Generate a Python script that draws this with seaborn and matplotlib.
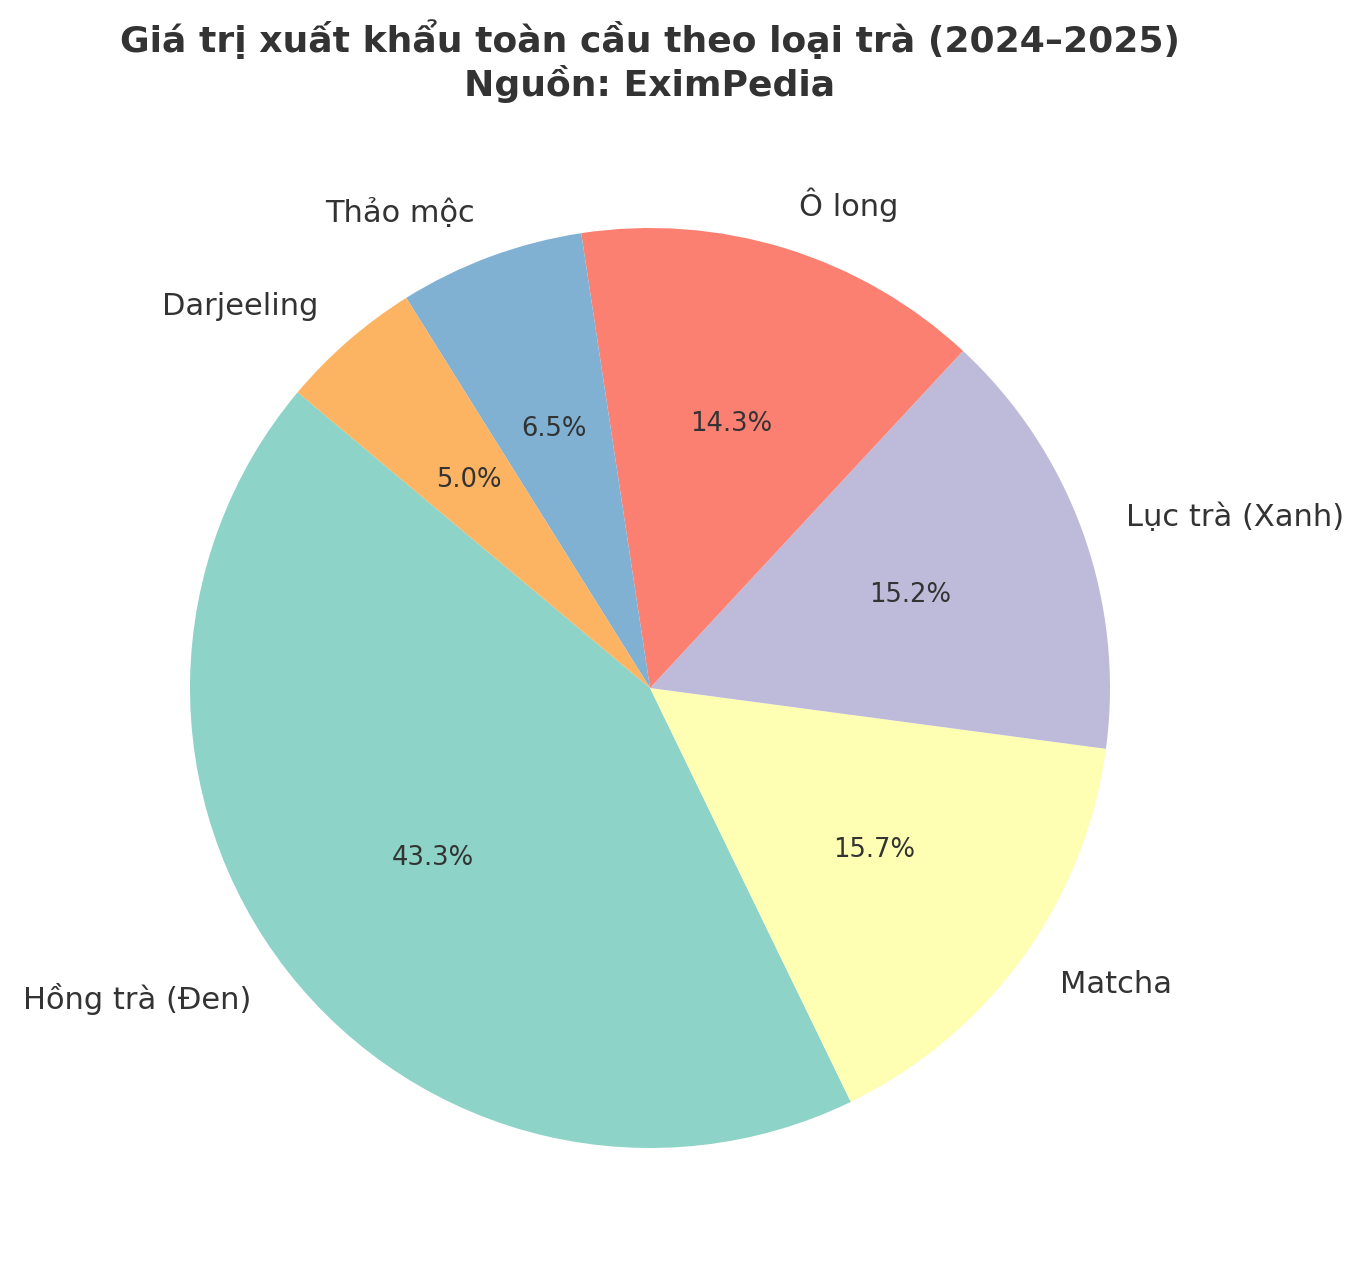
import matplotlib
matplotlib.use("Agg")
import matplotlib.pyplot as plt
import seaborn as sns

# Export share by tea type (percent)
tea_types = ["Hồng trà (Đen)", "Matcha", "Lục trà (Xanh)", "Ô long", "Thảo mộc", "Darjeeling"]
shares = [43.3, 15.7, 15.2, 14.3, 6.5, 5.0]

sns.set_style("white")
plt.rcParams['font.family'] = ['DejaVu Sans']
text_color = "#333333"

colors = sns.color_palette("Set3", len(tea_types))

fig = plt.figure(figsize=(6.83, 6.405), dpi=200)
ax = fig.add_axes([75 / 1366, 18 / 1281, 1150 / 1366, 1150 / 1281])

wedges, labels, pcts = ax.pie(shares, labels=tea_types, colors=colors,
                              autopct="%1.1f%%", startangle=140,
                              wedgeprops={"linewidth": 0, "edgecolor": "none"},
                              textprops={"color": text_color, "fontsize": 11})
for t in pcts:
    t.set_fontsize(9.3)

ax.set_title("Giá trị xuất khẩu toàn cầu theo loại trà (2024–2025)\nNguồn: EximPedia",
             fontsize=13, fontweight="bold", color=text_color)

fig.savefig("out.png", dpi=200)
